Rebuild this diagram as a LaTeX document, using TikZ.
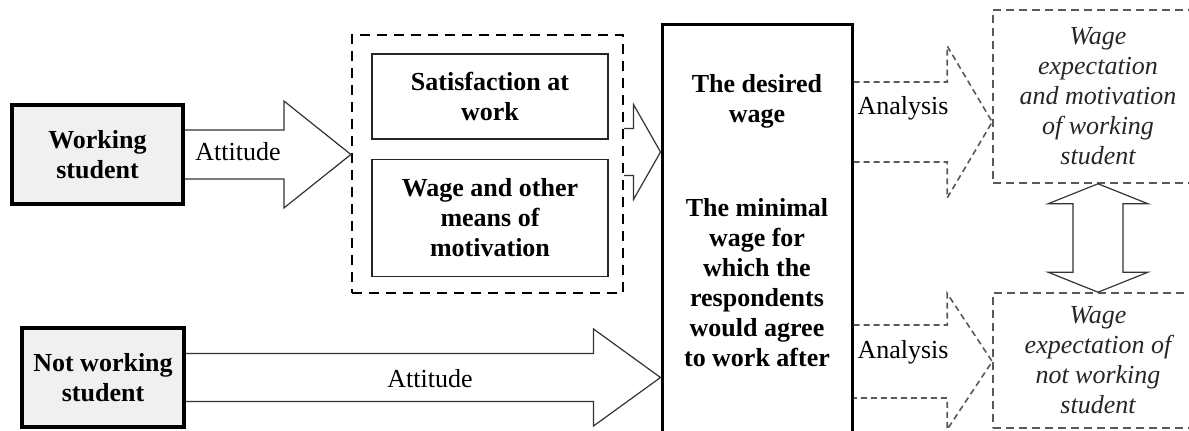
\documentclass[tikz,border=0pt]{standalone}
\usepackage{fontspec}
\setmainfont{Liberation Serif}
\usetikzlibrary{calc,positioning}

\newcommand{\boxfont}{\fontsize{13}{15}\selectfont}

\tikzset{
  student/.style={
    rectangle, draw=black, line width=2pt, fill=gray!12,
    minimum height=49.5pt, inner sep=0pt,
    align=center, font=\boxfont\bfseries
  },
  group/.style={
    rectangle, draw=black, line width=1.1pt,
    dash pattern=on 5pt off 3.5pt, inner sep=0pt
  },
  factor/.style={
    rectangle, draw=black!85, line width=0.6pt,
    minimum width=118pt, inner sep=0pt,
    align=center, font=\boxfont\bfseries
  },
  wagebox/.style={
    rectangle, draw=black, line width=1.5pt,
    minimum width=95pt, minimum height=206pt, inner sep=0pt
  },
  boldtext/.style={align=center, font=\boxfont\bfseries, inner sep=0pt},
  result/.style={
    rectangle, draw=black!65, line width=0.8pt,
    dash pattern=on 4pt off 2.5pt,
    minimum width=105pt, inner sep=0pt,
    align=center, font=\boxfont\itshape, text=black!85
  },
  label/.style={font=\boxfont, inner sep=0pt},
  hollow/.style={draw=black!80, line width=0.6pt, line join=miter},
  dhollow/.style={draw=black!65, line width=0.8pt, dash pattern=on 3pt off 2pt}
}

% wide open arrow: [style]{from}{to}{half shaft}{half head}{head length}
\newcommand{\blockarrow}[6][hollow]{%
  \draw[#1] let \p1=(#2), \p2=(#3) in
    (\x1,\y1+#4) -- (\x2-#6,\y1+#4) -- (\x2-#6,\y1+#5) -- (\x2,\y1)
    -- (\x2-#6,\y1-#5) -- (\x2-#6,\y1-#4) -- (\x1,\y1-#4);
}

\begin{document}
\begin{tikzpicture}[x=0.5pt, y=-0.5pt]
  \useasboundingbox (0,0) rectangle (1189,431);

  % students
  \node[student, minimum width=85.5pt] (ws) at (97.5,154.5) {Working\\student};
  \node[student, minimum width=81pt] (nws) at (103,377.5) {Not working\\student};

  % attitude factors
  \node[group, minimum width=135.5pt, minimum height=129pt] (grp) at (487.5,164) {};
  \node[factor, minimum height=42.5pt] (sat) at (490,96.5) {Satisfaction at\\work};
  \node[factor, minimum height=58.5pt, below=9.5pt of sat] (mot) {Wage and other\\means of\\motivation};

  % wage questions
  \node[wagebox] (dw) at (757,231) {};
  \node[boldtext] (desired) at (757,101) {The desired\\wage};
  \node[boldtext] (minimal) at (757,283) {The minimal\\wage for\\which the\\respondents\\would agree\\to work after};

  % outcomes
  \node[result, minimum height=86.5pt] (rt) at (1098,96.5)
    {Wage\\expectation\\and motivation\\of working\\student};
  \node[result, minimum height=67.5pt] (rb) at (1098,360.5)
    {Wage\\expectation of\\not working\\student};

  % arrows
  \blockarrow{ws.east}{grp.west}{12.25pt}{26.75pt}{33.5pt}
  \blockarrow{[yshift=6pt]grp.east}{dw.west}{11.75pt}{23.75pt}{13.5pt}
  \blockarrow{nws.east}{dw.west}{12pt}{24.25pt}{33.5pt}
  \blockarrow[dhollow]{[yshift=54.5pt]dw.east}{rt.west}{20pt}{38pt}{22.5pt}
  \blockarrow[dhollow]{[yshift=-65.25pt]dw.east}{rb.west}{18.25pt}{34pt}{22.5pt}

  \draw[hollow] let \p1=(rt.south), \p2=(rb.north) in
    (\x1,\y1) -- (\x1+25pt,\y1-10pt) -- (\x1+12.5pt,\y1-10pt)
    -- (\x1+12.5pt,\y2+10pt) -- (\x1+25pt,\y2+10pt) -- (\x1,\y2)
    -- (\x1-25pt,\y2+10pt) -- (\x1-12.5pt,\y2+10pt)
    -- (\x1-12.5pt,\y1-10pt) -- (\x1-25pt,\y1-10pt) -- cycle;

  % arrow labels
  \node[label] (att1) at (238,152) {Attitude};
  \node[label] (att2) at (430,379) {Attitude};
  \node[label] (an1) at (903,108) {Analysis};
  \node[label] (an2) at (903,352) {Analysis};
\end{tikzpicture}
\end{document}
